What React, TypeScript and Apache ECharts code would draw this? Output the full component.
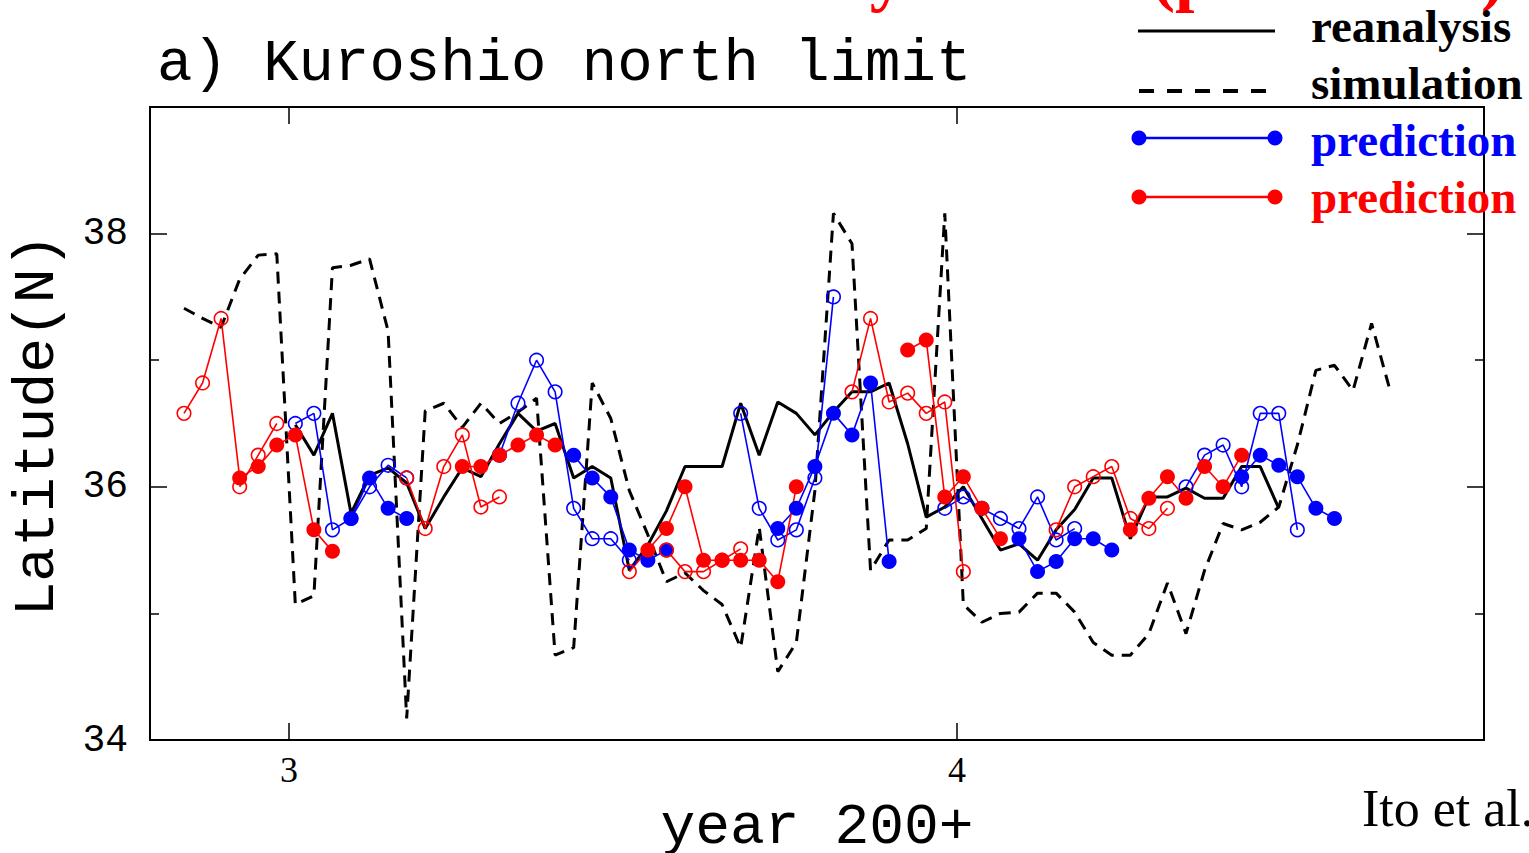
import React, { useEffect, useRef } from "react";
import * as echarts from "echarts";

// time axis: samples every dekad (1/36 year) starting at year T0
const T0 = 2.8428;
const DEKADS_PER_YEAR = 36;
const X_MIN = 2.7919;
const X_MAX = 4.7889;
const Y_MIN = 34;
const Y_MAX = 39;

const xTicks = [3, 4];
const yMajorTicks = [34, 36, 38];
const yMinorTicks = [35, 37];

// reanalysis (solid black), starting at dekad index 6
const reanalysisStart = 6;
const reanalysis = [
  36.49, 36.25, 36.58, 35.79, 36.09, 36.15, 36.03, 35.67, 35.92, 36.15,
  36.08, 36.34, 36.58, 36.44, 36.5, 36.07, 36.16, 36.07, 35.34, 35.54,
  35.81, 36.16, 36.16, 36.16, 36.66, 36.25, 36.67, 36.58, 36.41, 36.59,
  36.75, 36.75, 36.82, 36.34, 35.76, 35.84, 36.0, 35.75, 35.5, 35.55,
  35.42, 35.66, 35.82, 36.07, 36.07, 35.59, 35.92, 35.92, 35.99, 35.91,
  35.91, 36.16, 36.16, 35.83,
];

// simulation (dashed black), starting at dekad index 0
const simulationStart = 0;
const simulation = [
  37.41, 37.33, 37.26, 37.64, 37.83, 37.84, 35.07, 35.14, 37.73, 37.75,
  37.8, 37.23, 34.17, 36.6, 36.66, 36.47, 36.66, 36.5, 36.59, 36.7,
  34.67, 34.73, 36.82, 36.54, 35.97, 35.62, 35.25, 35.32, 35.18, 35.07,
  34.73, 35.68, 34.54, 34.77, 35.97, 38.16, 37.92, 35.34, 35.58, 35.58,
  35.67, 38.16, 35.07, 34.93, 35.0, 35.01, 35.16, 35.16, 35.01, 34.77,
  34.67, 34.67, 34.84, 35.24, 34.84, 35.34, 35.71, 35.66, 35.72, 35.84,
  36.33, 36.92, 36.96, 36.76, 37.29, 36.76,
];

// prediction runs: [dekad index, latitude, filled (1) / open (0)]
const blueRun1 = [[6, 36.5, 0], [7, 36.58, 0], [8, 35.66, 0], [9, 35.75, 1], [10, 36.07, 1], [11, 35.83, 1], [12, 35.75, 1]];
const blueRun2 = [[9, 35.75, 1], [10, 36.0, 0], [11, 36.17, 0], [12, 36.07, 0]];
const blueRun3 = [[17, 36.25, 0], [18, 36.66, 0], [19, 37.0, 0], [20, 36.75, 0], [21, 35.83, 0], [22, 35.59, 0], [23, 35.59, 0], [24, 35.42, 0]];
const blueRun4 = [[21, 36.25, 1], [22, 36.07, 1], [23, 35.92, 1], [24, 35.5, 1], [25, 35.42, 1], [26, 35.5, 1]];
const blueRun5 = [[30, 36.58, 0], [31, 35.83, 0], [32, 35.58, 0], [33, 35.66, 0], [34, 36.07, 0], [35, 37.5, 0]];
const blueRun6 = [[32, 35.67, 1], [33, 35.83, 1], [34, 36.16, 1], [35, 36.58, 1], [36, 36.41, 1], [37, 36.82, 1], [38, 35.41, 1]];
const blueRun7 = [[41, 35.83, 0], [42, 35.92, 0], [43, 35.83, 0], [44, 35.75, 0], [45, 35.67, 0], [46, 35.92, 0], [47, 35.58, 0], [48, 35.67, 0]];
const blueRun8 = [[45, 35.59, 1], [46, 35.33, 1], [47, 35.41, 1], [48, 35.59, 1], [49, 35.59, 1], [50, 35.5, 1]];
const blueRun9 = [[54, 36.0, 0], [55, 36.25, 0], [56, 36.33, 0], [57, 36.0, 0], [58, 36.58, 0], [59, 36.58, 0], [60, 35.66, 0]];
const blueRun10 = [[57, 36.08, 1], [58, 36.25, 1], [59, 36.17, 1], [60, 36.08, 1], [61, 35.83, 1], [62, 35.75, 1]];

const redRun1 = [[0, 36.58, 0], [1, 36.82, 0], [2, 37.33, 0], [3, 36.07, 1], [4, 36.16, 1], [5, 36.33, 1], [6, 36.41, 1], [7, 35.66, 1], [8, 35.49, 1]];
const redRun2 = [[3, 36.0, 0], [4, 36.25, 0], [5, 36.5, 0]];
const redRun3 = [[12, 36.07, 0], [13, 35.67, 0], [14, 36.16, 0], [15, 36.41, 0], [16, 35.84, 0], [17, 35.92, 0]];
const redRun4 = [[15, 36.16, 1], [16, 36.16, 1], [17, 36.25, 1], [18, 36.33, 1], [19, 36.41, 1], [20, 36.33, 1]];
const redRun5 = [[24, 35.33, 0], [25, 35.5, 1], [26, 35.67, 1], [27, 36.0, 1], [28, 35.42, 1], [29, 35.42, 1], [30, 35.42, 1], [31, 35.42, 1], [32, 35.25, 1], [33, 36.0, 1]];
const redRun6 = [[26, 35.5, 0], [27, 35.33, 0], [28, 35.33, 0], [29, 35.42, 0], [30, 35.51, 0]];
const redRun7 = [[36, 36.75, 0], [37, 37.33, 0], [38, 36.67, 0], [39, 36.74, 0], [40, 36.58, 0], [41, 36.67, 0], [42, 35.33, 0]];
const redRun8 = [[39, 37.08, 1], [40, 37.16, 1], [41, 35.92, 1], [42, 36.08, 1], [43, 35.83, 1], [44, 35.59, 1]];
const redRun9 = [[47, 35.66, 0], [48, 36.0, 0], [49, 36.08, 0], [50, 36.16, 0], [51, 35.75, 0], [52, 35.67, 0], [53, 35.83, 0]];
const redRun10 = [[51, 35.66, 1], [52, 35.91, 1], [53, 36.08, 1], [54, 35.91, 1], [55, 36.16, 1], [56, 36.0, 1], [57, 36.25, 1]];

const blueRuns = [blueRun1, blueRun2, blueRun3, blueRun4, blueRun5, blueRun6, blueRun7, blueRun8, blueRun9, blueRun10];
const redRuns = [redRun1, redRun2, redRun3, redRun4, redRun5, redRun6, redRun7, redRun8, redRun9, redRun10];

const legendLabels = ["reanalysis", "simulation", "prediction", "prediction"];

const BLUE = "#0000ff";
const RED = "#ff0000";
const MONO = '"Liberation Mono", "DejaVu Sans Mono", monospace';
const SERIF = '"Liberation Serif", "DejaVu Serif", serif';

const toYear = (k: number) => T0 + k / DEKADS_PER_YEAR;

function runSeries(run: number[][], color: string) {
  return {
    type: "line",
    xAxisIndex: 0,
    yAxisIndex: 0,
    silent: true,
    z: 4,
    showSymbol: true,
    showAllSymbol: true,
    lineStyle: { color, width: 1.6 },
    itemStyle: { color },
    emphasis: { disabled: true },
    data: run.map(([k, v, f]) => ({
      value: [toYear(k), v],
      symbol: "circle",
      symbolSize: f ? 15 : 13.5,
      itemStyle: f
        ? { color, borderWidth: 0 }
        : { color: "rgba(255,255,255,0)", borderColor: color, borderWidth: 1.6 },
    })),
  };
}

function tickAxis(position: string, values: number[], length: number, isX: boolean, withLabel: boolean) {
  const base: any = {
    type: "value",
    position,
    min: isX ? X_MIN : Y_MIN,
    max: isX ? X_MAX : Y_MAX,
    axisLine: { show: false },
    splitLine: { show: false },
    axisTick: {
      show: true,
      inside: true,
      length,
      customValues: values,
      lineStyle: { color: "#000", width: 1.5 },
    },
    axisLabel: withLabel
      ? isX
        ? { show: true, customValues: values, formatter: (v: number) => String(v), fontFamily: SERIF, fontSize: 36, color: "#000", margin: 12 }
        : { show: true, customValues: values, formatter: (v: number) => String(v), fontFamily: MONO, fontSize: 38, color: "#000", margin: 22 }
      : { show: false },
  };
  return base;
}

export default function App() {
  const ref = useRef<HTMLDivElement>(null);

  useEffect(() => {
    if (!ref.current) return;
    const chart = echarts.init(ref.current, undefined, { renderer: "svg" });

    const series: any[] = [
      {
        type: "line",
        name: legendLabels[1],
        silent: true,
        z: 2,
        showSymbol: false,
        lineStyle: { color: "#000", width: 3, type: [12, 8] },
        data: simulation.map((v, i) => [toYear(simulationStart + i), v]),
      },
      {
        type: "line",
        name: legendLabels[0],
        silent: true,
        z: 3,
        showSymbol: false,
        lineStyle: { color: "#000", width: 3 },
        data: reanalysis.map((v, i) => [toYear(reanalysisStart + i), v]),
      },
      ...blueRuns.map((r) => runSeries(r, BLUE)),
      ...redRuns.map((r) => runSeries(r, RED)),
    ];

    const legendRows = [
      { y: 31, ty: 26, color: "#000", label: legendLabels[0], kind: "solid" },
      { y: 91, ty: 83, color: "#000", label: legendLabels[1], kind: "dash" },
      { y: 138, ty: 140, color: BLUE, label: legendLabels[2], kind: "dot" },
      { y: 197, ty: 197, color: RED, label: legendLabels[3], kind: "dot" },
    ];
    const legendGraphics: any[] = [];
    legendRows.forEach((row) => {
      if (row.kind === "solid") {
        legendGraphics.push({ type: "line", silent: true, shape: { x1: 1138, y1: row.y, x2: 1275, y2: row.y }, style: { stroke: row.color, lineWidth: 3 } });
      } else if (row.kind === "dash") {
        legendGraphics.push({ type: "line", silent: true, shape: { x1: 1139, y1: row.y, x2: 1268, y2: row.y }, style: { stroke: row.color, lineWidth: 4, lineDash: [15, 13] } });
      } else {
        legendGraphics.push({ type: "line", silent: true, shape: { x1: 1139, y1: row.y, x2: 1275, y2: row.y }, style: { stroke: row.color, lineWidth: 2.6 } });
        legendGraphics.push({ type: "circle", silent: true, shape: { cx: 1139, cy: row.y, r: 7.5 }, style: { fill: row.color } });
        legendGraphics.push({ type: "circle", silent: true, shape: { cx: 1275, cy: row.y, r: 7.5 }, style: { fill: row.color } });
      }
      legendGraphics.push({
        type: "text",
        silent: true,
        x: 1311,
        y: row.ty,
        style: { text: row.label, fill: row.color, fontFamily: SERIF, fontWeight: "bold", fontSize: 47, align: "left", verticalAlign: "middle" },
      });
    });

    chart.setOption({
      animation: false,
      backgroundColor: "#ffffff",
      grid: {
        left: 150,
        top: 107,
        width: 1334,
        height: 633,
        show: true,
        borderColor: "#000",
        borderWidth: 2,
        backgroundColor: "rgba(0,0,0,0)",
        containLabel: false,
        outerBoundsMode: "none",
      },
      xAxis: [
        tickAxis("bottom", xTicks, 17, true, true),
        tickAxis("top", xTicks, 17, true, false),
      ],
      yAxis: [
        tickAxis("left", yMajorTicks, 17, false, true),
        tickAxis("left", yMinorTicks, 9, false, false),
        tickAxis("right", yMajorTicks, 17, false, false),
        tickAxis("right", yMinorTicks, 9, false, false),
      ],
      series,
      graphic: [
        {
          type: "text",
          silent: true,
          x: 230,
          y: -26,
          style: {
            text: "{g|North limit latitude }{r|by}{g| the KE }{r|(prediction)}",
            verticalAlign: "middle",
            align: "left",
            rich: {
              g: { fill: "#d8d8d8", fontSize: 70, fontFamily: SERIF, fontWeight: "bold", textShadowColor: "#b4b4b4", textShadowOffsetX: 3, textShadowOffsetY: 3 },
              r: { fill: RED, fontSize: 70, fontFamily: SERIF, fontWeight: "bold", textShadowColor: "#b4b4b4", textShadowOffsetX: 3, textShadowOffsetY: 3 },
            },
          },
        },
        {
          type: "text",
          silent: true,
          x: 157,
          y: 64,
          style: { text: "a) Kuroshio north limit", fill: "#000", fontFamily: MONO, fontSize: 59, align: "left", verticalAlign: "middle" },
        },
        {
          type: "text",
          silent: true,
          x: 37,
          y: 425,
          rotation: Math.PI / 2,
          style: { text: "Latitude(N)", fill: "#000", fontFamily: MONO, fontSize: 58, align: "center", verticalAlign: "middle" },
        },
        {
          type: "text",
          silent: true,
          x: 817,
          y: 827,
          style: { text: "year 200+", fill: "#000", fontFamily: MONO, fontSize: 58, align: "center", verticalAlign: "middle" },
        },
        {
          type: "text",
          silent: true,
          x: 1362,
          y: 808,
          style: { text: "Ito et al.", fill: "#000", fontFamily: SERIF, fontSize: 52, align: "left", verticalAlign: "middle" },
        },
        ...legendGraphics,
      ],
    });

    return () => chart.dispose();
  }, []);

  return (
    <div
      ref={ref}
      style={{ position: "absolute", left: 0, top: 0, width: 1529, height: 853, background: "#fff" }}
    />
  );
}
